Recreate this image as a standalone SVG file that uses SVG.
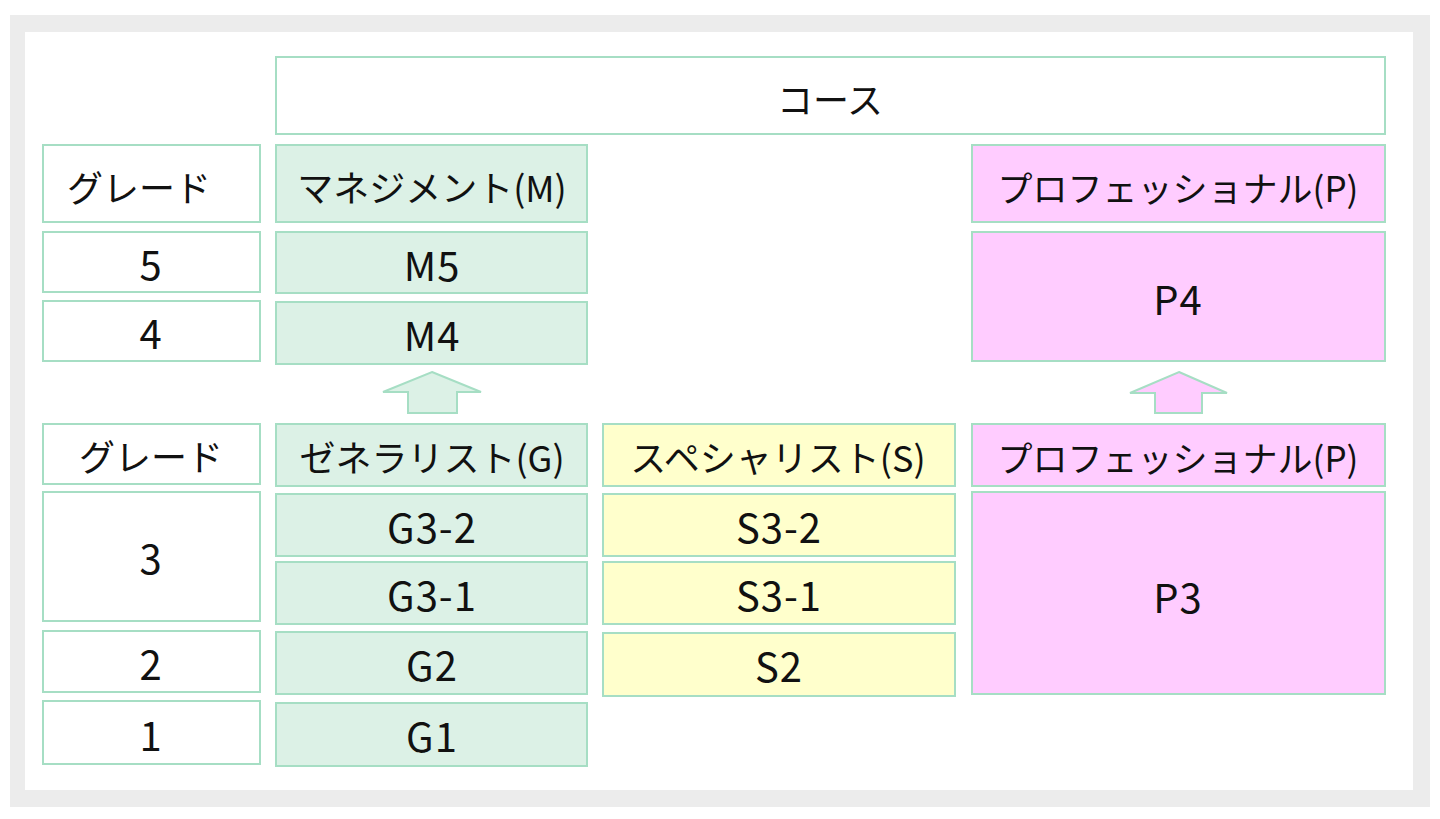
<svg xmlns="http://www.w3.org/2000/svg" width="1440" height="819" viewBox="0 0 1440 819">
<style>
.b{stroke:#a6dec4;stroke-width:2}
.w{fill:#ffffff}
.g{fill:#dcf1e6}
.y{fill:#ffffcc}
.p{fill:#ffccff}
text{font-family:"Noto Sans CJK JP","Noto Sans",sans-serif;font-size:36px;font-weight:400;fill:#111;text-anchor:middle;dominant-baseline:central}
.s{font-size:35px}
.n{font-size:40px;letter-spacing:1px}
</style>
<rect x="0" y="0" width="1440" height="819" fill="#ffffff"/>
<rect x="10" y="15" width="1420" height="792" fill="#ececec"/>
<rect x="25" y="32" width="1388" height="758" fill="#ffffff"/>

<g id="course"><rect class="b w" x="276" y="57" width="1109" height="77"/><text x="830" y="98">コース</text></g>

<g id="grade-h1"><rect class="b w" x="43" y="145" width="217" height="77"/><text x="139" y="186">グレード</text></g>
<g id="grade-5"><rect class="b w" x="43" y="232" width="217" height="60"/><text class="n" x="151" y="263">5</text></g>
<g id="grade-4"><rect class="b w" x="43" y="301" width="217" height="60"/><text class="n" x="151" y="332">4</text></g>
<g id="grade-h2"><rect class="b w" x="43" y="424" width="217" height="60"/><text x="151" y="455">グレード</text></g>
<g id="grade-3"><rect class="b w" x="43" y="492" width="217" height="129"/><text class="n" x="151" y="557">3</text></g>
<g id="grade-2"><rect class="b w" x="43" y="631" width="217" height="61"/><text class="n" x="151" y="663">2</text></g>
<g id="grade-1"><rect class="b w" x="43" y="701" width="217" height="63"/><text class="n" x="151" y="734">1</text></g>

<g id="m-head"><rect class="b g" x="276" y="145" width="311" height="77"/><text x="432" y="186">マネジメント(M)</text></g>
<g id="m5"><rect class="b g" x="276" y="232" width="311" height="61"/><text class="n" x="432" y="264">M5</text></g>
<g id="m4"><rect class="b g" x="276" y="302" width="311" height="62"/><text class="n" x="432" y="334">M4</text></g>
<g id="g-head"><rect class="b g" x="276" y="424" width="311" height="62"/><text x="432" y="456">ゼネラリスト(G)</text></g>
<g id="g3-2"><rect class="b g" x="276" y="494" width="311" height="62"/><text class="n" x="432" y="526">G3-2</text></g>
<g id="g3-1"><rect class="b g" x="276" y="562" width="311" height="62"/><text class="n" x="432" y="594">G3-1</text></g>
<g id="g2"><rect class="b g" x="276" y="632" width="311" height="62"/><text class="n" x="432" y="664">G2</text></g>
<g id="g1"><rect class="b g" x="276" y="703" width="311" height="63"/><text class="n" x="432" y="735">G1</text></g>

<g id="s-head"><rect class="b y" x="603" y="424" width="352" height="62"/><text x="778" y="456">スペシャリスト(S)</text></g>
<g id="s3-2"><rect class="b y" x="603" y="494" width="352" height="62"/><text class="n" x="779" y="526">S3-2</text></g>
<g id="s3-1"><rect class="b y" x="603" y="562" width="352" height="62"/><text class="n" x="779" y="594">S3-1</text></g>
<g id="s2"><rect class="b y" x="603" y="633" width="352" height="63"/><text class="n" x="779" y="665">S2</text></g>

<g id="p-head1"><rect class="b p" x="972" y="145" width="413" height="77"/><text class="s" x="1178" y="186">プロフェッショナル(P)</text></g>
<g id="p4"><rect class="b p" x="972" y="232" width="413" height="129"/><text class="n" x="1178" y="298">P4</text></g>
<g id="p-head2"><rect class="b p" x="972" y="424" width="413" height="62"/><text class="s" x="1178" y="456">プロフェッショナル(P)</text></g>
<g id="p3"><rect class="b p" x="972" y="492" width="413" height="202"/><text class="n" x="1178" y="596">P3</text></g>

<g id="connectors">
<polygon class="b g" points="432,372 481,392 457,392 457,413 408,413 408,392 383,392"/>
<polygon class="b p" points="1179,372 1227,393 1202,393 1202,413 1155,413 1155,393 1130,393"/>
</g>
</svg>
